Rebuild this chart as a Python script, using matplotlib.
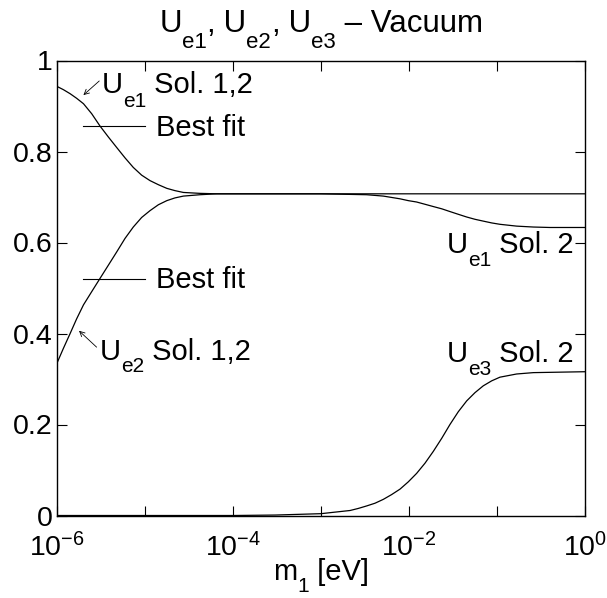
import matplotlib
matplotlib.use("Agg")
import matplotlib.pyplot as plt
from matplotlib.transforms import offset_copy

plt.rcParams['font.family'] = ['Liberation Sans', 'DejaVu Sans']
plt.rcParams['mathtext.fontset'] = 'custom'
plt.rcParams['mathtext.rm'] = 'Liberation Sans'
plt.rcParams['mathtext.it'] = 'Liberation Sans:italic'
plt.rcParams['mathtext.bf'] = 'Liberation Sans:bold'

# ---- data ----
m1_e1 = [1.0e-6, 1.18e-6, 1.41e-6, 1.67e-6, 2.0e-6, 2.48e-6, 3.08e-6, 3.83e-6, 4.76e-6,
         5.93e-6, 7.36e-6, 9.16e-6, 1.14e-5, 1.42e-5, 1.77e-5, 2.19e-5, 2.73e-5,
         4.22e-5, 6.53e-5,
         1.0e-3, 3.30e-3, 5.11e-3, 7.91e-3, 9.82e-3, 1.22e-2, 1.52e-2, 1.89e-2,
         2.36e-2, 2.92e-2, 3.63e-2, 4.53e-2, 5.62e-2, 6.98e-2, 8.71e-2, 0.108,
         0.167, 0.259, 0.400, 1.0]
Ue1 = [0.943, 0.936, 0.927, 0.917, 0.905, 0.883, 0.856, 0.832, 0.809,
       0.786, 0.765, 0.748, 0.736, 0.727, 0.719, 0.714, 0.710,
       0.708, 0.707,
       0.707, 0.705, 0.702, 0.696, 0.692, 0.689, 0.684, 0.679,
       0.674, 0.668, 0.662, 0.656, 0.651, 0.647, 0.643, 0.640,
       0.636, 0.634, 0.633, 0.633]

m1_e2 = [1.0e-6, 1.18e-6, 1.41e-6, 1.67e-6, 2.0e-6, 2.48e-6, 3.08e-6, 3.83e-6, 4.76e-6,
         5.93e-6, 7.36e-6, 9.16e-6, 1.14e-5, 1.42e-5, 1.77e-5, 2.19e-5, 2.73e-5,
         4.22e-5, 6.53e-5, 1.0]
Ue2 = [0.335, 0.367, 0.400, 0.432, 0.463, 0.492, 0.521, 0.550, 0.579,
       0.609, 0.634, 0.655, 0.670, 0.683, 0.692, 0.698, 0.702,
       0.705, 0.707, 0.707]

m1_e3 = [1.0e-6, 1.0e-4, 3.0e-4, 1.0e-3, 1.38e-3, 2.14e-3, 2.65e-3, 3.30e-3, 4.11e-3,
         5.11e-3, 6.35e-3, 7.91e-3, 9.82e-3, 1.22e-2, 1.52e-2, 1.89e-2, 2.36e-2,
         2.92e-2, 3.63e-2, 4.53e-2, 5.62e-2, 6.98e-2, 8.71e-2, 0.108, 0.167,
         0.259, 1.0]
Ue3 = [0.0, 0.0, 0.001, 0.004, 0.007, 0.011, 0.0155, 0.021, 0.027,
       0.0355, 0.046, 0.058, 0.074, 0.0925, 0.115, 0.141, 0.170,
       0.200, 0.228, 0.252, 0.270, 0.285, 0.296, 0.304, 0.311,
       0.314, 0.316]

xticks = [1e-6, 1e-5, 1e-4, 1e-3, 1e-2, 1e-1, 1e0]
xticklabels = [r'$\mathregular{10^{-6}}$', '', r'$\mathregular{10^{-4}}$', '',
               r'$\mathregular{10^{-2}}$', '', r'$\mathregular{10^{0}}$']
yticks = [0, 0.2, 0.4, 0.6, 0.8, 1]
yticklabels = ['0', '0.2', '0.4', '0.6', '0.8', '1']

fig = plt.figure(figsize=(6.07, 5.98), dpi=100)
ax = fig.add_axes([57/607, 1 - 515.5/598, (585 - 57)/607, (515.5 - 60.5)/598])

lw = 0.9
ax.plot(m1_e1, Ue1, color='k', lw=lw)
ax.plot(m1_e2, Ue2, color='k', lw=lw)
ax.plot(m1_e3, Ue3, color='k', lw=lw)

ax.set_xscale('log')
ax.set_xlim(1e-6, 1)
ax.set_ylim(0, 1)
ax.set_xticks(xticks)
ax.set_xticklabels(xticklabels)
ax.xaxis.set_minor_locator(matplotlib.ticker.NullLocator())
ax.set_yticks(yticks)
ax.set_yticklabels(yticklabels)
ax.tick_params(direction='in', top=True, right=True, length=7, width=0.8,
               labelsize=20.5)
ax.tick_params(axis='y', pad=3)
ax.tick_params(axis='x', pad=13)
for s in ax.spines.values():
    s.set_linewidth(1.0)

renderer = fig.canvas.get_renderer()


def rich(x, y, parts, transform, ha='left', fs=21, sfs=15, drop=14):
    items = []
    for s, sub in parts:
        t = ax.text(x, y, s, transform=transform, fontsize=sfs if sub else fs,
                    ha='left', va='baseline')
        w = t.get_window_extent(renderer).width
        items.append((t, sub, w))
    total = sum(w for _, _, w in items)
    dx = 0 if ha == 'left' else -total / 2
    for t, sub, w in items:
        t.set_transform(offset_copy(transform, fig=fig, x=dx,
                                    y=-drop if sub else 0, units='dots'))
        dx += w


td = ax.transData
# annotations
rich(10**-5.49, 0.929, [("U", 0), ("e1", 1), (" Sol. 1,2", 0)], td)
ax.annotate('', xy=(10**-5.70, 0.924), xytext=(10**-5.52, 0.955),
            arrowprops=dict(arrowstyle='->', lw=0.6, shrinkA=0, shrinkB=0, mutation_scale=9))
ax.plot([10**-5.70, 10**-5.0], [0.855, 0.855], color='k', lw=0.8)
ax.text(10**-4.87, 0.833, 'Best fit', fontsize=21, ha='left', va='baseline')

ax.plot([10**-5.70, 10**-5.0], [0.5197, 0.5197], color='k', lw=0.8)
ax.text(10**-4.87, 0.500, 'Best fit', fontsize=21, ha='left', va='baseline')

rich(10**-5.51, 0.342, [("U", 0), ("e2", 1), (" Sol. 1,2", 0)], td, drop=12)
ax.annotate('', xy=(10**-5.75, 0.406), xytext=(10**-5.55, 0.370),
            arrowprops=dict(arrowstyle='->', lw=0.6, shrinkA=0, shrinkB=0, mutation_scale=9))

rich(10**-1.57, 0.577, [("U", 0), ("e1", 1), (" Sol. 2", 0)], td, drop=13)
rich(10**-1.57, 0.338, [("U", 0), ("e3", 1), (" Sol. 2", 0)], td, drop=13)

ta = ax.transAxes
rich(0.5, 1 + 29/455, [("U", 0), ("e1", 1), (",", 0), (" U", 0), ("e2", 1), (",", 0),
                        (" U", 0), ("e3", 1), (" \u2013 Vacuum", 0)], ta, ha='center',
     fs=22.5, sfs=16, drop=17)
rich(0.5, -(580 - 515.5)/455, [("m", 0), ("1", 1), (" [eV]", 0)], ta, ha='center', drop=12)

fig.savefig('out.png', dpi=100)
